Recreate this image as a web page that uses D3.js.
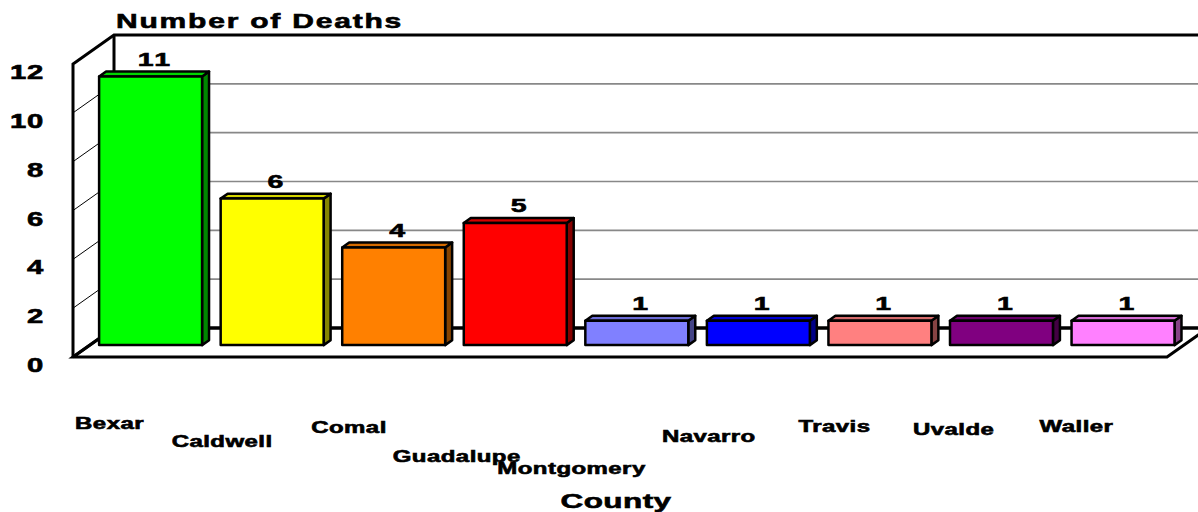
<!DOCTYPE html>
<html>
<head>
<meta charset="utf-8">
<script src="https://cdn.jsdelivr.net/npm/d3@7"></script>
<style>
  body { margin: 0; background: #fff; }
  text { font-family: "Liberation Sans", Arial, sans-serif; font-weight: bold; fill: #000; stroke: #000; stroke-width: 0.6px; }
</style>
</head>
<body>
<div id="chart"></div>
<script>
// data
const counties = ["Bexar", "Caldwell", "Comal", "Guadalupe", "Montgomery", "Navarro", "Travis", "Uvalde", "Waller"];
const deaths = [11, 6, 4, 5, 1, 1, 1, 1, 1];
const barColors = ["#00ff00", "#ffff00", "#ff8000", "#ff0000", "#8080ff", "#0000ff", "#ff8080", "#800080", "#ff80ff"];
const yTicks = [0, 2, 4, 6, 8, 10, 12];

// staggered category labels (layout only): offset from the bar front edge, baseline
const labelShift = [-24, -49, -31, -71, -88, -45, -30, -37, -32];
const labelBase = [429, 447, 433, 462, 474, 442, 432, 435, 432];

const width = 1198, height = 512;
const DX = -41, DY = 29;          // depth vector, back wall -> front of floor
const zFront = 0.59, zBack = 0.42; // bar depth inside the floor
const stretch = 1.5;              // the old chart font is drawn wide

const svg = d3.select("#chart").append("svg")
    .attr("width", width).attr("height", height);

const x = d3.scaleBand()
    .domain(counties)
    .range([114, 1208])
    .paddingInner(0.153)
    .paddingOuter(0.0765);

const y = d3.scaleLinear()
    .domain([0, 12])
    .range([328, 35]);

const proj = (xv, v, z) => [xv + DX * z, y(v) + DY * z];
const pts = arr => arr.map(p => p.join(",")).join(" ");

function wideText(g, tx, ty, str, size, anchor, ls) {
    return g.append("text")
        .attr("transform", `translate(${tx},${ty}) scale(${stretch},1)`)
        .attr("text-anchor", anchor)
        .style("font-size", size + "px")
        .style("letter-spacing", (ls || 0) + "px")
        .text(str);
}

const xMin = x.range()[0], xMax = x.range()[1];

// floor
svg.append("polygon")
    .attr("points", pts([proj(xMin, 0, 0), proj(xMax, 0, 0), proj(xMax, 0, 1), proj(xMin, 0, 1)]))
    .attr("fill", "#fff").attr("stroke", "#000").attr("stroke-width", 3)
    .attr("stroke-linejoin", "miter");

// back wall grid
svg.append("g").selectAll("line")
    .data(yTicks.filter(t => t > 0 && t < 12))
    .join("line")
    .attr("x1", xMin).attr("x2", xMax)
    .attr("y1", d => y(d)).attr("y2", d => y(d))
    .attr("stroke", "#888").attr("stroke-width", 1.6);

// side wall tick lines
svg.append("g").selectAll("line")
    .data(yTicks.filter(t => t > 0 && t < 12))
    .join("line")
    .attr("x1", d => proj(xMin, d, 1)[0]).attr("y1", d => proj(xMin, d, 1)[1])
    .attr("x2", d => proj(xMin, d, 0)[0]).attr("y2", d => proj(xMin, d, 0)[1])
    .attr("stroke", "#000").attr("stroke-width", 1);

// wall frame
svg.append("path")
    .attr("d", d3.line()([proj(xMin, 0, 1), proj(xMin, 12, 1), proj(xMin, 12, 0), proj(xMax, 12, 0)]))
    .attr("fill", "none").attr("stroke", "#000").attr("stroke-width", 3);
svg.append("path")
    .attr("d", d3.line()([proj(xMin, 12, 0), proj(xMin, 0, 0), proj(xMax, 0, 0)]))
    .attr("fill", "none").attr("stroke", "#000").attr("stroke-width", 3);
svg.append("path")
    .attr("d", d3.line()([proj(xMin, 0, 0), proj(xMin, 0, 1)]))
    .attr("fill", "none").attr("stroke", "#000").attr("stroke-width", 3);

// bars
const bar = svg.selectAll(".bar")
    .data(counties.map((c, i) => ({ county: c, value: deaths[i], color: barColors[i], i })))
    .join("g")
    .attr("class", "bar")
    .attr("stroke", "#000").attr("stroke-width", 2.5).attr("stroke-linejoin", "round");

bar.append("polygon") // side
    .attr("fill", d => d3.color(d.color).darker(1.8))
    .attr("points", d => {
        const r = x(d.county) + x.bandwidth();
        return pts([proj(r, d.value, zFront), proj(r, d.value, zBack), proj(r, 0, zBack), proj(r, 0, zFront)]);
    });

bar.append("polygon") // top
    .attr("fill", d => d3.color(d.color).darker(0.5))
    .attr("points", d => {
        const l = x(d.county), r = l + x.bandwidth();
        return pts([proj(l, d.value, zFront), proj(r, d.value, zFront), proj(r, d.value, zBack), proj(l, d.value, zBack)]);
    });

bar.append("rect") // front
    .attr("fill", d => d.color)
    .attr("x", d => proj(x(d.county), 0, zFront)[0])
    .attr("y", d => proj(0, d.value, zFront)[1])
    .attr("width", x.bandwidth())
    .attr("height", d => y(0) - y(d.value));

// value labels
const labels = svg.append("g");
bar.each(function (d) {
    const c = proj(x(d.county) + x.bandwidth() / 2, d.value, (zFront + zBack) / 2);
    const top = proj(0, d.value, zBack)[1];
    wideText(labels, c[0] + 1, top - 6, d.value, 19, "middle", 1.5);
});

// y tick labels
yTicks.forEach(t => {
    wideText(svg, 44, proj(xMin, t, 1)[1] + 15, t, 19.5, "end", 0.5);
});

// category labels
counties.forEach((c, i) => {
    const fx = proj(x(c), 0, zFront)[0];
    wideText(svg, fx + labelShift[i], labelBase[i], c, 16, "start", 0.3);
});

// titles
wideText(svg, 116, 28, "Number of Deaths", 20, "start", 1.2);
wideText(svg, 616, 508, "County", 21, "middle", 0.3);
</script>
</body>
</html>
